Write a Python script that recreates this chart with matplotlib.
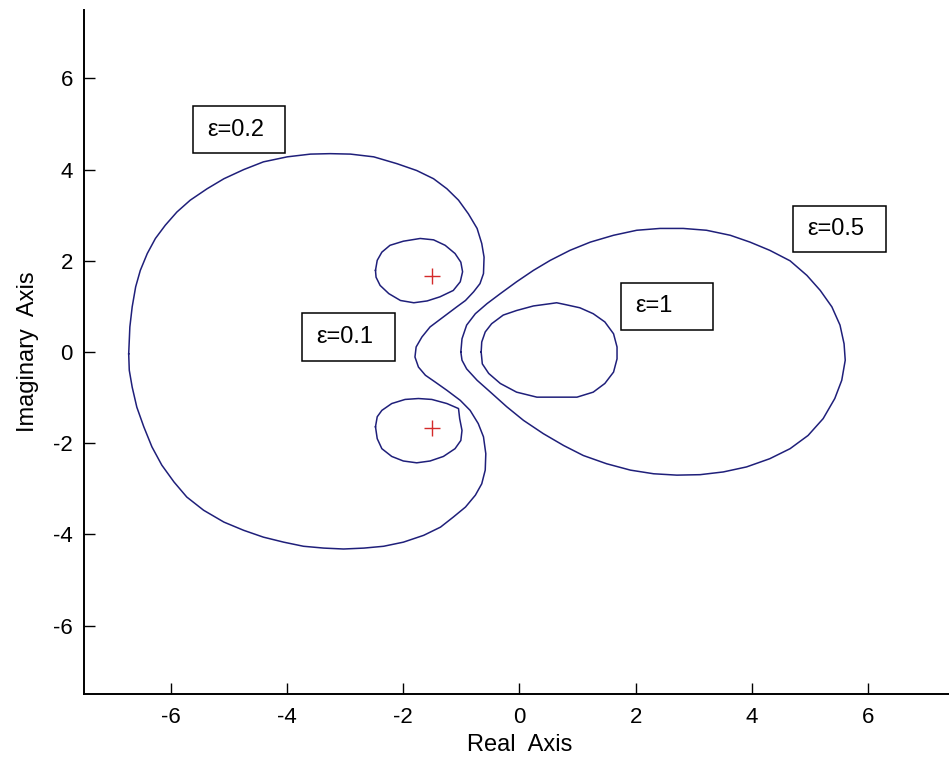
import matplotlib
matplotlib.use("Agg")
import matplotlib.pyplot as plt
from matplotlib.patches import Rectangle

# contour points (real, imaginary)
eps02_re = [-6.73, -6.71, -6.67, -6.61, -6.53, -6.41, -6.27, -6.10, -5.90, -5.67, -5.38,
            -5.09, -4.75, -4.41, -4.00, -3.60, -3.26, -2.91, -2.51, -2.11, -1.77, -1.48,
            -1.25, -1.05, -0.88, -0.73, -0.65, -0.61, -0.62, -0.68, -0.79, -0.93, -1.08,
            -1.31, -1.54, -1.68, -1.78, -1.80, -1.74, -1.62, -1.45, -1.25, -1.02, -0.85,
            -0.71, -0.62, -0.58, -0.59, -0.65, -0.76, -0.93, -1.14, -1.36, -1.65, -2.00,
            -2.34, -2.68, -3.03, -3.37, -3.72, -4.06, -4.41, -4.75, -5.09, -5.44, -5.73,
            -5.95, -6.16, -6.33, -6.47, -6.59, -6.67, -6.72, -6.73]
eps02_im = [-0.04, 0.55, 0.99, 1.43, 1.79, 2.16, 2.49, 2.78, 3.07, 3.33, 3.58,
            3.80, 4.00, 4.17, 4.28, 4.34, 4.35, 4.34, 4.28, 4.13, 3.98, 3.80,
            3.58, 3.33, 3.03, 2.71, 2.38, 2.08, 1.72, 1.50, 1.32, 1.13, 0.99,
            0.77, 0.55, 0.33, 0.11, -0.11, -0.33, -0.51, -0.66, -0.84, -1.06, -1.28,
            -1.57, -1.86, -2.23, -2.59, -2.89, -3.14, -3.40, -3.62, -3.84, -4.02, -4.17,
            -4.26, -4.30, -4.32, -4.30, -4.26, -4.17, -4.06, -3.91, -3.73, -3.47, -3.18,
            -2.85, -2.48, -2.08, -1.64, -1.21, -0.77, -0.40, -0.04]

eps01_up_re = [-2.48, -2.45, -2.37, -2.23, -2.00, -1.71, -1.48, -1.28, -1.11, -1.01, -0.98,
               -1.02, -1.14, -1.37, -1.59, -1.82, -2.05, -2.25, -2.40, -2.47, -2.48]
eps01_up_im = [1.79, 2.01, 2.19, 2.34, 2.43, 2.49, 2.46, 2.34, 2.16, 1.97, 1.76,
               1.54, 1.35, 1.21, 1.12, 1.08, 1.13, 1.28, 1.46, 1.64, 1.79]
eps01_dn_re = [-2.48, -2.45, -2.37, -2.20, -1.97, -1.74, -1.51, -1.25, -1.05, -1.03, -0.99,
               -1.01, -1.11, -1.31, -1.54, -1.77, -2.00, -2.20, -2.37, -2.45, -2.48]
eps01_dn_im = [-1.64, -1.42, -1.28, -1.13, -1.04, -1.02, -1.04, -1.13, -1.24, -1.46, -1.72,
               -1.94, -2.12, -2.29, -2.39, -2.43, -2.39, -2.29, -2.12, -1.90, -1.64]

eps05_re = [-1.01, -0.99, -0.91, -0.76, -0.56, -0.33, -0.05, 0.24, 0.53, 0.87, 1.22, 1.62,
            2.02, 2.42, 2.82, 3.22, 3.63, 3.97, 4.31, 4.66, 4.95, 5.18, 5.38, 5.52, 5.59,
            5.61, 5.55, 5.43, 5.23, 4.97, 4.66, 4.31, 3.91, 3.51, 3.11, 2.71, 2.31, 1.91,
            1.50, 1.10, 0.76, 0.41, 0.07, -0.22, -0.50, -0.73, -0.91, -0.99, -1.01]
eps05_im = [0.00, 0.29, 0.59, 0.84, 1.06, 1.28, 1.54, 1.79, 2.01, 2.23, 2.41, 2.56,
            2.67, 2.71, 2.71, 2.67, 2.56, 2.41, 2.23, 2.00, 1.68, 1.35, 0.99, 0.59, 0.18,
            -0.18, -0.62, -1.02, -1.46, -1.83, -2.12, -2.34, -2.52, -2.63, -2.69, -2.70, -2.67, -2.59,
            -2.45, -2.27, -2.05, -1.79, -1.50, -1.20, -0.88, -0.62, -0.37, -0.18, 0.00]

eps1_re = [-0.66, -0.65, -0.59, -0.48, -0.28, -0.05, 0.24, 0.53, 0.64, 0.79, 1.04, 1.27,
           1.47, 1.62, 1.68, 1.68, 1.62, 1.47, 1.27, 0.99, 0.64, 0.30, -0.05, -0.33,
           -0.53, -0.64, -0.66]
eps1_im = [0.00, 0.22, 0.44, 0.62, 0.81, 0.91, 1.01, 1.06, 1.08, 1.04, 0.97, 0.84,
           0.66, 0.40, 0.11, -0.15, -0.44, -0.69, -0.88, -0.99, -0.99, -0.99, -0.88, -0.69,
           -0.47, -0.26, 0.00]

eig_re = [-1.5, -1.5]
eig_im = [1.658, -1.658]

# label boxes: text, left, right, bottom, top
labels = ["ε=0.2", "ε=0.1", "ε=0.5", "ε=1"]
box_x0 = [-5.63, -3.75, 4.71, 1.74]
box_x1 = [-4.03, -2.14, 6.31, 3.34]
box_y0 = [4.36, -0.19, 2.19, 0.48]
box_y1 = [5.39, 0.86, 3.20, 1.52]

line_color = "#1f1f7a"

plt.rcParams["font.family"] = ["Liberation Sans", "DejaVu Sans"]
plt.rcParams["axes.unicode_minus"] = False

fig = plt.figure(figsize=(9.49, 7.64), dpi=100)
ax = fig.add_axes([0.0885, 0.0916, 0.9178, 0.8953])

ax.plot(eps02_re, eps02_im, color=line_color, lw=1.1)
ax.plot(eps01_up_re, eps01_up_im, color=line_color, lw=1.1)
ax.plot(eps01_dn_re, eps01_dn_im, color=line_color, lw=1.1)
ax.plot(eps05_re, eps05_im, color=line_color, lw=1.1)
ax.plot(eps1_re, eps1_im, color=line_color, lw=1.1)
ax.plot(eig_re, eig_im, "+", color="#d42a2a", ms=11, mew=1.0)

for txt, x0, x1, y0, y1 in zip(labels, box_x0, box_x1, box_y0, box_y1):
    ax.add_patch(Rectangle((x0, y0), x1 - x0, y1 - y0, fill=False,
                           edgecolor="black", lw=1.1))
    ax.text(x0 + 0.25, (y0 + y1) / 2, txt, ha="left", va="center", fontsize=17)

ax.set_xlim(-7.5, 7.5)
ax.set_ylim(-7.5, 7.5)
ax.set_xticks([-6, -4, -2, 0, 2, 4, 6])
ax.set_yticks([-6, -4, -2, 0, 2, 4, 6])
ax.spines["top"].set_visible(False)
ax.spines["right"].set_visible(False)
ax.spines["left"].set_linewidth(1.4)
ax.spines["bottom"].set_linewidth(1.4)
ax.tick_params(direction="in", length=8, width=1.0, labelsize=16)
ax.tick_params(axis="x", pad=9)
ax.tick_params(axis="y", pad=8)

ax.set_xlabel("Real  Axis", fontsize=17)
ax.set_ylabel("Imaginary  Axis", fontsize=17)
ax.xaxis.set_label_coords(0.5, -0.058)
ax.yaxis.set_label_coords(-0.052, 0.5)

fig.savefig("out.png", dpi=100)
